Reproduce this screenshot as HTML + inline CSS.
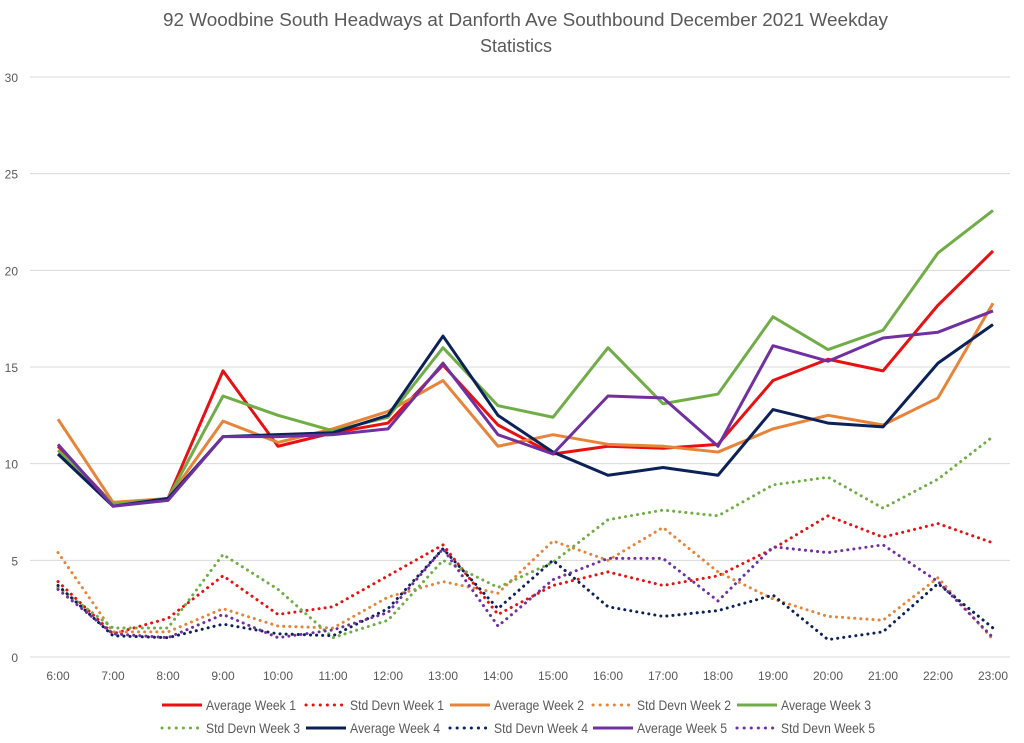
<!DOCTYPE html>
<html><head><meta charset="utf-8"><style>
body{margin:0;background:#fff;}
svg{display:block;font-family:"Liberation Sans",sans-serif;}
</style></head><body>
<svg id="chart" width="1024" height="743" viewBox="0 0 1024 743">
<rect width="1024" height="743" fill="#fff"/>
<text x="163" y="26" textLength="725" lengthAdjust="spacingAndGlyphs" font-size="18" fill="#595959">92 Woodbine South Headways at Danforth Ave Southbound December 2021 Weekday</text>
<text x="516" y="52" text-anchor="middle" font-size="18" fill="#595959">Statistics</text>
<g id="grid"></g><g id="series"></g><g id="legend"></g>
</svg>
<script>
const categories=["6:00","7:00","8:00","9:00","10:00","11:00","12:00","13:00","14:00","15:00","16:00","17:00","18:00","19:00","20:00","21:00","22:00","23:00"];
const yTicks=[0,5,10,15,20,25,30];
const avgW1=[10.9,7.9,8.2,14.8,10.9,11.6,12.1,15.1,12.0,10.5,10.9,10.8,11.0,14.3,15.4,14.8,18.2,21.0];
const stdW1=[3.9,1.2,2.0,4.2,2.2,2.6,4.2,5.8,2.2,3.7,4.4,3.7,4.2,5.6,7.3,6.2,6.9,5.9];
const avgW2=[12.3,8.0,8.2,12.2,11.1,11.8,12.7,14.3,10.9,11.5,11.0,10.9,10.6,11.8,12.5,12.0,13.4,18.3];
const stdW2=[5.4,1.3,1.3,2.5,1.6,1.5,3.1,3.9,3.3,6.0,5.0,6.7,4.4,3.0,2.1,1.9,4.1,0.9];
const avgW3=[10.7,7.9,8.2,13.5,12.5,11.7,12.4,16.0,13.0,12.4,16.0,13.1,13.6,17.6,15.9,16.9,20.9,23.1];
const stdW3=[3.6,1.5,1.5,5.3,3.5,1.0,1.9,5.0,3.6,4.9,7.1,7.6,7.3,8.9,9.3,7.7,9.2,11.4];
const avgW4=[10.5,7.8,8.2,11.4,11.5,11.6,12.5,16.6,12.5,10.6,9.4,9.8,9.4,12.8,12.1,11.9,15.2,17.2];
const stdW4=[3.7,1.1,1.0,1.7,1.2,1.1,2.5,5.6,2.5,5.0,2.6,2.1,2.4,3.2,0.9,1.3,3.8,1.5];
const avgW5=[11.0,7.8,8.1,11.4,11.4,11.5,11.8,15.2,11.5,10.5,13.5,13.4,10.9,16.1,15.3,16.5,16.8,17.9];
const stdW5=[3.5,1.2,1.0,2.2,1.0,1.4,2.3,5.6,1.6,4.0,5.1,5.1,2.9,5.7,5.4,5.8,3.9,1.0];
const seriesNames=["Average Week 1","Std Devn Week 1","Average Week 2","Std Devn Week 2","Average Week 3","Std Devn Week 3","Average Week 4","Std Devn Week 4","Average Week 5","Std Devn Week 5"];
const NS="http://www.w3.org/2000/svg";
const x0=58,dx=55,yBase=657,yTop=77,yMax=30;
const xs=i=>x0+i*dx;
const ys=v=>yBase-(v/yMax)*(yBase-yTop);
function mk(tag,attrs,parent){const e=document.createElementNS(NS,tag);for(const k in attrs)e.setAttribute(k,attrs[k]);parent.appendChild(e);return e;}
const grid=document.getElementById('grid');
yTicks.forEach(t=>{
 const l=mk('line',{x1:30,x2:1010,y1:ys(t),y2:ys(t),stroke:'#d9d9d9','stroke-width':1},grid);
 
 
 const tx=mk('text',{x:18,y:ys(t)+5,'text-anchor':'end','font-size':12,fill:'#595959'},grid);
 tx.textContent=t;
 
 
});
categories.forEach((c,i)=>{
 const tx=mk('text',{x:xs(i),y:680,'text-anchor':'middle','font-size':12,fill:'#595959'},grid);
 tx.textContent=c;
 
 
});
const data=[avgW1,stdW1,avgW2,stdW2,avgW3,stdW3,avgW4,stdW4,avgW5,stdW5];
const colors=["#e81010","#e81010","#e8843a","#e8843a","#70ad47","#70ad47","#0b2158","#0b2158","#7030a0","#7030a0"];
const sg=document.getElementById('series');
data.forEach((arr,k)=>{
 const dotted=k%2===1;
 const p=mk('polyline',{points:arr.map((v,i)=>xs(i)+','+ys(v)).join(' '),fill:'none',stroke:colors[k],'stroke-width':3,'stroke-linejoin':'round','stroke-linecap':dotted?'round':'butt'},sg);
 if(dotted)p.setAttribute('stroke-dasharray','0.1 6');
 
 
});
const lg=document.getElementById('legend');
const colX=[162,306,450,593,737];
seriesNames.forEach((n,k)=>{
 const row=Math.floor(k/5),col=k%5;
 const lx=colX[col],ly=705+row*23;
 const dotted=k%2===1;
 const g=mk('g',{},lg);
 
 
 const l=mk('line',{x1:lx,x2:lx+40,y1:ly,y2:ly,stroke:colors[k],'stroke-width':3,'stroke-linecap':dotted?'round':'butt'},g);
 if(dotted)l.setAttribute('stroke-dasharray','0.1 7');
 const t=mk('text',{x:lx+44,y:ly+5,'font-size':14,fill:'#595959',textLength:n.startsWith('Std')?94:90,lengthAdjust:'spacingAndGlyphs'},g);
 t.textContent=n;
});
</script>
</body></html>
